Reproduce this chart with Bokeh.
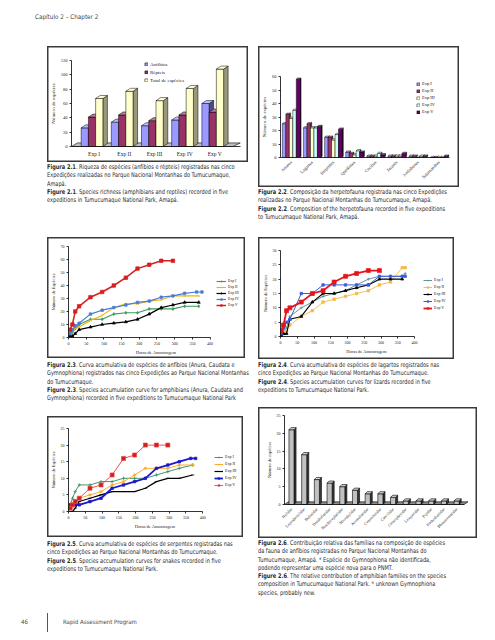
import numpy as np
from math import pi
from bokeh.plotting import figure
from bokeh.models import Range1d, FixedTicker, Legend, LegendItem, Div, Spacer
from bokeh.layouts import column, row
from bokeh.embed import file_html
from bokeh.resources import INLINE

# ---------------- Figure 2.1 data ----------------
exp_labels = ["Exp I", "Exp II", "Exp III", "Exp IV", "Exp V"]
anfibios = [26, 34, 29, 37, 60]
repteis = [41, 44, 36, 44, 48]
total_especies = [67, 77, 64, 81, 108]

# ---------------- Figure 2.2 data ----------------
groups22 = ["Anuros", "Lagartos", "Serpentes", "Quelônios", "Cecílias", "Jacarés", "Anfisbenas", "Salamandras"]
g22_exp1 = [25, 22, 15, 4, 1, 1, 1, 0]
g22_exp2 = [32, 25, 15, 3, 1, 1, 1, 0]
g22_exp3 = [29, 22, 13, 2, 1, 1, 0, 0]
g22_exp4 = [35, 22, 17, 5, 3, 1, 1, 0]
g22_exp5 = [58, 23, 21, 4, 2, 3, 1, 1]

# ---------------- Figure 2.3 data (amphibians) ----------------
h23 = [4, 11, 19, 30, 62, 95, 128, 162, 195, 228, 262, 295, 328, 368]
h23_iv = [4, 11, 19, 30, 62, 95, 128, 162, 195, 228, 262, 295, 328, 362, 377]
a23_exp1 = [2, 4, 7, 10, 14, 14, 18, 19, 19, 22, 22, 22, 24, 24]
a23_exp2 = [3, 5, 7, 8, 13, 17, 23, 26, 26, 28, 29, 32, 32, 32]
a23_exp3 = [1, 1, 3, 6, 8, 10, 11, 12, 14, 18, 23, 25, 27, 27]
a23_exp4 = [3, 6, 9, 11, 18, 21, 23, 25, 27, 28, 31, 32, 34, 35, 35]
a23_exp5 = [6, 10, 20, 24, 31, 35, 40, 46, 53, 56, 59, 59]

# ---------------- Figure 2.4 data (lizards) ----------------
h24 = [2, 9, 18, 28, 62, 95, 127, 160, 194, 227, 262, 295, 328, 363, 372]
l24_exp1 = [1, 2, 3, 7, 10, 12, 14, 15, 16, 18, 20, 21, 21, 21, 22]
l24_exp2 = [0, 1, 2, 4, 7, 9, 12, 13, 14, 15, 16, 18, 19, 24, 24]
l24_exp3 = [0, 1, 1, 6, 7, 12, 15, 15, 16, 17, 18, 20, 20, 20]
l24_exp4 = [1, 3, 5, 6, 15, 15, 18, 18, 18, 18, 18, 21, 21, 21, 21]
l24_exp5 = [2, 4, 9, 10, 12, 15, 16, 19, 21, 22, 23, 23]

# ---------------- Figure 2.5 data (snakes) ----------------
h25 = [5, 12, 20, 32, 64, 97, 130, 164, 197, 229, 262, 296, 330, 370]
h25_iv = [5, 12, 20, 32, 64, 97, 130, 164, 197, 229, 262, 296, 330, 364, 379]
s25_exp1 = [2, 4, 6, 8, 8, 9, 9, 10, 10, 10, 11, 12, 13, 14]
s25_exp2 = [2, 2, 3, 4, 5, 6, 8, 9, 11, 13, 13, 13, 14, 14]
s25_exp3 = [0, 0, 1, 3, 4, 5, 6, 6, 6, 7, 9, 10, 10, 11]
s25_exp4 = [2, 2, 2, 2, 3, 4, 7, 8, 9, 10, 13, 14, 15, 16, 16]
s25_exp5 = [1, 2, 3, 4, 7, 8, 11, 16, 17, 20, 20, 20]

# ---------------- Figure 2.6 data ----------------
families = ["Hylidae", "Leptodactylidae", "Bufonidae", "Dendrobatidae", "Brachycephalidae",
            "Microhylidae", "Aromobatidae", "Centrolenidae", "Caecilidae", "Ceratophryidae",
            "Leiuperidae", "Pipidae", "Plethodontidae", "Rhinatrematidae"]
family_counts = [21, 14, 7, 6, 5, 4, 3, 3, 2, 1, 1, 1, 1, 1]

# ---------------- styling helpers ----------------
SERIF = "Liberation Serif"
SANS_N = "'Liberation Sans Narrow','DejaVu Sans Condensed',sans-serif"
BOX = {"box-shadow": "inset 0 0 0 1.5px #3a3a3a"}


def shade(c, f):
    h = c.lstrip("#")
    r, g, b = (int(h[i:i + 2], 16) for i in (0, 2, 4))
    return "#%02x%02x%02x" % (int(r * f), int(g * f), int(b * f))


def tint(c, f):
    h = c.lstrip("#")
    r, g, b = (int(h[i:i + 2], 16) for i in (0, 2, 4))
    return "#%02x%02x%02x" % (int(r + (255 - r) * f), int(g + (255 - g) * f), int(b + (255 - b) * f))


def base_fig(w, h, xr, yr, bl, br, bt, bb, tick_fs="4.5px"):
    p = figure(width=w, height=h, x_range=Range1d(*xr), y_range=Range1d(*yr),
               output_backend="svg", toolbar_location=None,
               min_border_left=bl, min_border_right=br, min_border_top=bt, min_border_bottom=bb,
               background_fill_alpha=0, border_fill_alpha=0, outline_line_color=None,
               styles=BOX, margin=0)
    p.xgrid.visible = False
    p.ygrid.visible = False
    for ax in (p.xaxis[0], p.yaxis[0]):
        ax.axis_line_color = "black"
        ax.axis_line_width = 0.8
        ax.major_tick_line_color = "black"
        ax.major_tick_line_width = 0.8
        ax.major_tick_out = 2
        ax.major_tick_in = 0
        ax.minor_tick_line_color = None
        ax.major_label_text_font = SERIF
        ax.major_label_text_font_size = tick_fs
        ax.major_label_text_color = "#222222"
        ax.major_label_standoff = 2
        ax.axis_label_text_font = SERIF
        ax.axis_label_text_font_size = "5px"
        ax.axis_label_text_font_style = "normal"
        ax.axis_label_text_color = "#222222"
        ax.axis_label_standoff = 2
    return p


def bars3d(p, xs, vals, w, dx, dy, color, side_f=0.55, top_f=0.35, lw=0.5):
    xs = np.asarray(xs, float)
    vals = np.asarray(vals, float)
    left = xs - w / 2
    right = xs + w / 2
    side_x = [[r, r + dx, r + dx, r] for r in right]
    side_y = [[0, dy, v + dy, v] for v in vals]
    top_x = [[l, r, r + dx, l + dx] for l, r in zip(left, right)]
    top_y = [[v, v, v + dy, v + dy] for v in vals]
    p.patches(side_x, side_y, fill_color=shade(color, side_f), line_color="black", line_width=lw)
    front = p.quad(left=left, right=right, bottom=0, top=vals, fill_color=color,
                   line_color="black", line_width=lw)
    p.patches(top_x, top_y, fill_color=tint(color, top_f), line_color="black", line_width=lw)
    return front


def add_legend(p, items, loc, lh, sp, gw, gh, fs, standoff=2):
    leg = Legend(items=items, location=loc, label_text_font=SERIF, label_text_font_size=fs,
                 label_text_color="#222222", label_height=lh, label_width=8,
                 glyph_height=gh, glyph_width=gw, spacing=sp, padding=0, margin=0,
                 border_line_color=None, background_fill_alpha=0, label_standoff=standoff)
    p.add_layout(leg)


def line_series(p, hours, vals, color, lw, marker, msize, mfill=None):
    l = p.line(hours, vals, line_color=color, line_width=lw)
    s = p.scatter(hours, vals, marker=marker, size=msize, line_color=color,
                  fill_color=mfill or color, line_width=0.7)
    return [l, s]


# ================= Figure 2.1 =================
p1 = base_fig(201, 116, (0.25, 5.85), (0, 120), 21, 8, 14, 16, tick_fs="4.5px")
cat_x = np.arange(1, len(exp_labels) + 1)
p1.patches([[0.25, 5.6, 5.85, 0.45]], [[0, 0, 5, 5]], fill_color="#bdbdbd", line_color="black", line_width=0.6)
series21 = [("Anfíbios", anfibios, "#9999ff", -0.31),
            ("Répteis", repteis, "#993366", -0.07),
            ("Total de espécies", total_especies, "#ffffcc", 0.17)]
items21 = []
for name, vals, col, off in series21:
    r = bars3d(p1, cat_x + off, vals, 0.24, 0.15, 4.2, col, side_f=0.5 if col != "#ffffcc" else 0.6)
    items21.append(LegendItem(label=name, renderers=[r]))
p1.xaxis.ticker = FixedTicker(ticks=list(cat_x))
p1.xaxis.major_label_overrides = {int(i): lab for i, lab in zip(cat_x, exp_labels)}
p1.xaxis.major_tick_line_color = None
p1.xaxis.major_label_text_font_size = "5.5px"
p1.yaxis.ticker = FixedTicker(ticks=list(range(0, 121, 20)))
p1.yaxis.axis_label = "Número de espécies"
add_legend(p1, items21, (73, 63), 6, 2, 4, 4, "5px")

# ================= Figure 2.2 =================
p2 = base_fig(201, 141, (0, 8), (0, 60), 22, 10, 30, 30)
gx = np.arange(len(groups22)) + 0.5
series22 = [("Exp I", g22_exp1, "#9999ff"), ("Exp II", g22_exp2, "#993366"),
            ("Exp III", g22_exp3, "#ffffcc"), ("Exp IV", g22_exp4, "#ccffff"),
            ("Exp V", g22_exp5, "#660066")]
items22 = []
for j, (name, vals, col) in enumerate(series22):
    r = bars3d(p2, gx + (j - 2) * 0.165, vals, 0.165, 0.06, 0.9, col, side_f=0.5, lw=0.45)
    items22.append(LegendItem(label=name, renderers=[r]))
p2.xaxis.ticker = FixedTicker(ticks=list(gx))
p2.xaxis.major_label_overrides = {float(x): g for x, g in zip(gx, groups22)}
p2.xaxis.major_label_orientation = pi / 4
p2.xaxis.major_tick_line_color = None
p2.yaxis.ticker = FixedTicker(ticks=list(range(0, 61, 10)))
p2.yaxis.axis_label = "Número de espécies"
add_legend(p2, items22, (136, 43), 5, 2, 4, 4, "4.5px")

# ================= Figure 2.3 =================
p3 = base_fig(198, 121, (0, 494.4), (0, 70), 18, 2, 9, 21, tick_fs="4px")
p3.xaxis.bounds = (0, 400)
p3.xaxis.ticker = FixedTicker(ticks=list(range(0, 401, 50)))
p3.yaxis.ticker = FixedTicker(ticks=list(range(0, 71, 10)))
p3.xaxis.axis_label = "Horas de Amostragem"
p3.yaxis.axis_label = "Número de Espécies"
p3.xaxis.axis_label_text_font_size = "4.5px"
p3.yaxis.axis_label_text_font_size = "4.5px"
items23 = [
    LegendItem(label="Exp I", renderers=line_series(p3, h23, a23_exp1, "#3a9a5b", 1.1, "diamond", 3)),
    LegendItem(label="Exp II", renderers=line_series(p3, h23, a23_exp2, "#f2b200", 1.1, "x", 3)),
    LegendItem(label="Exp III", renderers=line_series(p3, h23, a23_exp3, "#000000", 1.2, "triangle", 3)),
    LegendItem(label="Exp IV", renderers=line_series(p3, h23_iv, a23_exp4, "#4a7bd6", 1.2, "square", 2.5)),
    LegendItem(label="Exp V", renderers=line_series(p3, h23[:12], a23_exp5, "#d42020", 1.5, "square", 3.5)),
]
add_legend(p3, items23, (148, 30), 4, 2, 10, 4, "3.8px")

# ================= Figure 2.4 =================
p4 = base_fig(196, 122, (0, 513), (0, 30), 22, 2, 13, 23, tick_fs="4px")
p4.xaxis.bounds = (0, 400)
p4.xaxis.ticker = FixedTicker(ticks=list(range(0, 401, 50)))
p4.yaxis.ticker = FixedTicker(ticks=list(range(0, 31, 5)))
p4.xaxis.axis_label = "Horas de Amostragem"
p4.yaxis.axis_label = "Número de Espécies"
p4.xaxis.axis_label_text_font_size = "4.5px"
p4.yaxis.axis_label_text_font_size = "4.5px"
items24 = [
    LegendItem(label="Exp I", renderers=line_series(p4, h24, l24_exp1, "#4f8f8f", 0.9, "cross", 3)),
    LegendItem(label="Exp II", renderers=line_series(p4, h24, l24_exp2, "#f5b942", 0.9, "square", 2.5)),
    LegendItem(label="Exp III", renderers=line_series(p4, h24[:14], l24_exp3, "#000000", 1.1, "triangle", 3)),
    LegendItem(label="Exp IV", renderers=line_series(p4, h24, l24_exp4, "#3b5bdb", 1.0, "square", 2.5)),
    LegendItem(label="Exp V", renderers=line_series(p4, h24[:12], l24_exp5, "#e8141b", 1.8, "square", 4)),
]
add_legend(p4, items24, (143, 26), 5, 2, 9, 4, "4px")

# ================= Figure 2.5 =================
p5 = base_fig(196, 121, (0, 515.5), (0, 25), 20, 2, 12, 26, tick_fs="4px")
p5.xaxis.bounds = (0, 400)
p5.xaxis.ticker = FixedTicker(ticks=list(range(0, 401, 50)))
p5.yaxis.ticker = FixedTicker(ticks=list(range(0, 26, 5)))
p5.xaxis.axis_label = "Horas de Amostragem"
p5.yaxis.axis_label = "Número de Espécies"
p5.xaxis.axis_label_text_font_size = "4.5px"
p5.yaxis.axis_label_text_font_size = "4.5px"
items25 = [
    LegendItem(label="Exp I", renderers=line_series(p5, h25, s25_exp1, "#2e8b57", 0.9, "cross", 3.5)),
    LegendItem(label="Exp II", renderers=line_series(p5, h25, s25_exp2, "#ffa31a", 0.9, "asterisk", 3.5)),
    LegendItem(label="Exp III", renderers=line_series(p5, h25, s25_exp3, "#000000", 1.2, "dash", 3.5)),
    LegendItem(label="Exp IV", renderers=line_series(p5, h25_iv, s25_exp4, "#1a1acc", 1.8, "square", 2.5)),
    LegendItem(label="Exp V", renderers=line_series(p5, h25[:12], s25_exp5, "#ee4040", 0.9, "square", 4, "#cc2020")),
]
add_legend(p5, items25, (146, 24), 5, 2, 9, 4, "4px")

# ================= Figure 2.6 =================
p6 = base_fig(219, 131, (-0.55, 14.33), (0, 25), 26, 4, 8, 34, tick_fs="4px")
fx = np.arange(len(families))
p6.patches([[-0.55, 13.6, 13.9, -0.25]], [[0, 0, 0.75, 0.75]], fill_color="#8c8c8c", line_color="black", line_width=0.6)
bars3d(p6, fx, family_counts, 0.4, 0.16, 0.6, "#c0c0c0", side_f=0.3, top_f=0.3, lw=0.6)
p6.xaxis.bounds = (-0.55, 13.6)
p6.xaxis.ticker = FixedTicker(ticks=list(fx))
p6.xaxis.major_label_overrides = {int(i): f for i, f in zip(fx, families)}
p6.xaxis.major_label_orientation = pi / 4
p6.xaxis.major_tick_line_color = None
p6.yaxis.ticker = FixedTicker(ticks=list(range(0, 26, 5)))
p6.yaxis.axis_label = "Número de espécies"
p6.yaxis.axis_label_text_font_size = "4.5px"

# ================= captions & page text =================
CAP = ("font-family:%s;font-size:6.5px;line-height:8.3px;color:#2b2b2b;white-space:nowrap;"
       "transform:scaleX(0.86);transform-origin:0 0;" % SANS_N)


def caption(lines, w, h, pad_top):
    html = '<div style="%spadding-top:%spx">%s</div>' % (CAP, pad_top, "<br>".join(lines))
    return Div(text=html, width=w, height=h, margin=0)


cap1 = caption(["<b>Figura 2.1</b>. Riqueza de espécies (anfíbios e répteis) registradas nas cinco",
                "Expedições realizadas no Parque Nacional Montanhas do Tumucumaque,",
                "Amapá.",
                "<b>Figure 2.1</b>. Species richness (amphibians and reptiles) recorded in five",
                "expeditions in Tumucumaque National Park, Amapá."], 201, 75, 1)
cap2 = caption(["<b>Figura 2.2</b>. Composição da herpetofauna registrada nas cinco Expedições",
                "realizadas no Parque Nacional Montanhas do Tumucumaque, Amapá.",
                "<b>Figure 2.2</b>. Composition of the herpetofauna recorded in five expeditions",
                "to Tumucumaque National Park, Amapá."], 221, 50, 1)
cap3 = caption(["<b>Figura 2.3</b>. Curva acumulativa de espécies de anfíbios (Anura, Caudata e",
                "Gymnophiona) registrados nas cinco Expedições ao Parque Nacional Montanhas",
                "do Tumucumaque.",
                "<b>Figure 2.3</b>. Species accumulation curve for amphibians (Anura, Caudata and",
                "Gymnophiona) recorded in five expeditions to Tumucumaque National Park"], 211, 49, 3)
cap4 = caption(["<b>Figura 2.4</b>. Curva acumulativa de espécies de lagartos registrados nas",
                "cinco Expedições ao Parque Nacional Montanhas do Tumucumaque.",
                "<b>Figure 2.4</b>. Species accumulation curves for lizards recorded in five",
                "expeditions to Tumucumaque National Park."], 221, 48, 2)
cap5 = caption(["<b>Figura 2.5</b>. Curva acumulativa de espécies de serpentes registradas nas",
                "cinco Expedições ao Parque Nacional Montanhas do Tumucumaque.",
                "<b>Figure 2.5</b>. Species accumulation curves for snakes recorded in five",
                "expeditions to Tumucumaque National Park."], 211, 68, 3)
cap6 = caption(["<b>Figura 2.6</b>. Contribuição relativa das famílias na composição de espécies",
                "da fauna de anfíbios registradas no Parque Nacional Montanhas do",
                "Tumucumaque, Amapá. * Espécie de Gymnophiona não identificada,",
                "podendo representar uma espécie nova para o PNMT.",
                "<b>Figure 2.6</b>. The relative contribution of amphibian families on the species",
                "composition in Tumucumaque National Park. * unknown Gymnophiona",
                "species, probably new."], 221, 67, 1)

header = Div(text=('<div style="position:relative;width:487px;height:46px;font-family:%s;font-size:6.3px;color:#444">'
                   '<div style="position:absolute;left:35px;top:13px;white-space:nowrap">Capítulo 2 – Chapter 2</div>'
                   '</div>' % SANS_N), width=487, height=46, margin=0)
footer = Div(text=('<div style="position:relative;width:487px;height:27px;font-family:%s;font-size:6px;color:#444">'
                   '<div style="position:absolute;left:21px;top:13px">46</div>'
                   '<div style="position:absolute;left:47px;top:8px;width:1px;height:19px;background:#555"></div>'
                   '<div style="position:absolute;left:63px;top:13px;white-space:nowrap">Rapid Assessment Program</div>'
                   '</div>' % SANS_N), width=487, height=27, margin=0)

rowA = row(Spacer(width=47, height=10, margin=0), column(p1, cap1, margin=0),
           Spacer(width=10, height=10, margin=0), column(p2, cap2, margin=0), margin=0)
rowB = row(Spacer(width=47, height=10, margin=0), column(p3, cap3, margin=0),
           column(p4, cap4, margin=0), margin=0)
rowC = row(Spacer(width=47, height=10, margin=0),
           column(Spacer(width=10, height=9, margin=0), p5, cap5, margin=0),
           column(p6, cap6, margin=0), margin=0)
root = column(header, rowA, rowB, rowC, footer, margin=0)

open("out.html", "w").write(file_html(root, INLINE, "Capítulo 2"))
